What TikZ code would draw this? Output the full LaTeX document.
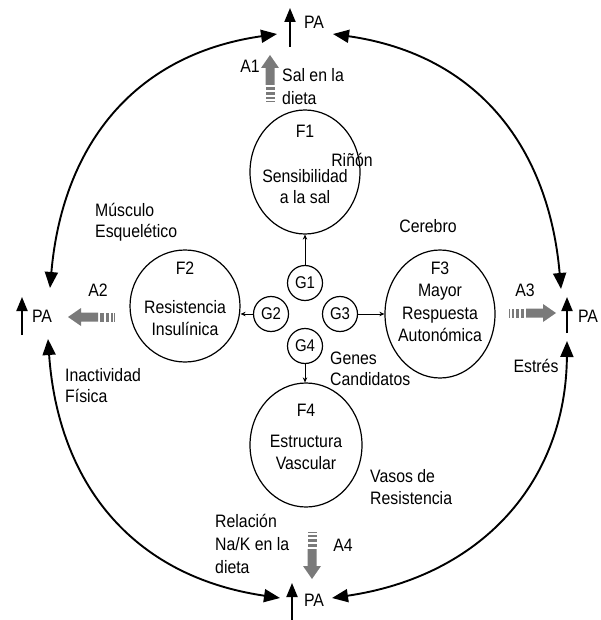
\documentclass[tikz,border=0pt]{standalone}
\usepackage{fontspec}
\setmainfont[FakeStretch=0.88]{Liberation Sans}
\usetikzlibrary{arrows.meta,shapes.geometric}

\definecolor{blockgray}{HTML}{7A7A7A}

\tikzset{
  txt/.style={font=\fontsize{18}{22}\selectfont, inner sep=0pt, text height=12.8pt, text depth=0pt},
  fell/.style={draw, ellipse, line width=1.2pt, inner sep=0pt},
  gcirc/.style={draw, circle, line width=1.2pt, minimum size=35pt, inner sep=0pt,
                font=\fontsize{17}{20}\selectfont},
  smallarrow/.style={line width=0.8pt, -{Stealth[length=5pt,width=4.5pt]}},
  paarrow/.style={line width=1.9pt, -{Triangle[length=14pt,width=11pt]}},
  bigcurve/.style={line width=1.9pt,
                   {Triangle[length=16pt,width=13pt]}-{Triangle[length=16pt,width=13pt]}},
  blockarrow/.pic={
    \fill[blockgray] (0,0) -- (9,13) -- (4.5,13) -- (4.5,30) -- (-4.5,30) -- (-4.5,13) -- (-9,13) -- cycle;
    \fill[blockgray] (-4.5,32) rectangle (4.5,35.5);
    \fill[blockgray] (-4.5,37.5) rectangle (4.5,40.5);
    \fill[blockgray] (-4.5,42.5) rectangle (4.5,44.5);
    \fill[blockgray] (-4.5,46) rectangle (4.5,47);
  }
}

\begin{document}
\begin{tikzpicture}[x=1pt,y=-1pt]
\useasboundingbox (0,0) rectangle (600,620);

% the four factor ellipses
\node[fell, minimum width=110pt, minimum height=124pt] (F1) at (305,172) {};
\node[fell, minimum width=110pt, minimum height=112pt] (F2) at (185,306) {};
\node[fell, minimum width=110pt, minimum height=128pt] (F3) at (440,314) {};
\node[fell, minimum width=112pt, minimum height=124pt] (F4) at (306,445) {};

\node[txt] (f1a) at (305,131) {F1};
\node[txt] (f1b) at (305,176) {Sensibilidad};
\node[txt] (f1c) at (305,197) {a la sal};

\node[txt] (f2a) at (185,268) {F2};
\node[txt] (f2b) at (185,307) {Resistencia};
\node[txt] (f2c) at (185,329) {Insulínica};

\node[txt] (f3a) at (440,268) {F3};
\node[txt] (f3b) at (440,290) {Mayor};
\node[txt] (f3c) at (440,313) {Respuesta};
\node[txt] (f3d) at (440,335) {Autonómica};

\node[txt] (f4a) at (306,410) {F4};
\node[txt] (f4b) at (306,441) {Estructura};
\node[txt] (f4c) at (306,463) {Vascular};

% candidate genes
\node[gcirc] (G1) at (305,283) {G1};
\node[gcirc] (G2) at (271,314) {G2};
\node[gcirc] (G3) at (340,314) {G3};
\node[gcirc] (G4) at (305,346) {G4};

\draw[smallarrow] (G1) -- (F1);
\draw[smallarrow] (G2) -- (G2 -| F2.east);
\draw[smallarrow] (G3) -- (G3 -| F3.west);
\draw[smallarrow] (G4) -- (G4 |- F4.north);

% blood pressure arrows
\coordinate (T0) at (290,47);  \coordinate (T1) at (290,8);
\coordinate (L0) at (22,335);  \coordinate (L1) at (22,297);
\coordinate (R0) at (567,333); \coordinate (R1) at (567,297);
\coordinate (B0) at (292,620); \coordinate (B1) at (292,583);
\draw[paarrow] (T0) -- (T1);
\draw[paarrow] (L0) -- (L1);
\draw[paarrow] (R0) -- (R1);
\draw[paarrow] (B0) -- (B1);
\node[txt] (PAt) at (314,22) {PA};
\node[txt] (PAl) at (42,316) {PA};
\node[txt] (PAr) at (588,316) {PA};
\node[txt] (PAb) at (314,600) {PA};

% outer feedback curves
\coordinate (tlA) at (50,288);  \coordinate (tlB) at (277,34);
\coordinate (trA) at (333,34);  \coordinate (trB) at (561,289);
\coordinate (blA) at (48,339);  \coordinate (blB) at (280,598);
\coordinate (brA) at (332,598); \coordinate (brB) at (567,341);
\draw[bigcurve] (tlA) .. controls (62,150) and (130,55) .. (tlB);
\draw[bigcurve] (trA) .. controls (480,55) and (549,150) .. (trB);
\draw[bigcurve] (blA) .. controls (58,481) and (130,576) .. (blB);
\draw[bigcurve] (brA) .. controls (482,576) and (566,481) .. (brB);

% environmental block arrows
\pic at (270,55) {blockarrow};
\pic[rotate=90] at (68,317) {blockarrow};
\pic[rotate=-90] at (556,313) {blockarrow};
\pic[rotate=180] at (312,579) {blockarrow};

\node[txt] (A1) at (250,66) {A1};
\node[txt] (A2) at (98,290) {A2};
\node[txt] (A3) at (525,290) {A3};
\node[txt] (A4) at (343,545) {A4};

% labels
\node[txt, anchor=west] (sal1) at (282,75) {Sal en la};
\node[txt, anchor=west] (sal2) at (282,98) {dieta};
\node[txt] (rin) at (352,160) {Riñón};
\node[txt, anchor=west] (mus1) at (95,210) {Músculo};
\node[txt, anchor=west] (mus2) at (95,231) {Esquelético};
\node[txt] (cer) at (428,226) {Cerebro};
\node[txt] (est) at (536,366) {Estrés};
\node[txt, anchor=west] (ina1) at (65,375) {Inactividad};
\node[txt, anchor=west] (ina2) at (65,396) {Física};
\node[txt, anchor=west] (gen1) at (330,358) {Genes};
\node[txt, anchor=west] (gen2) at (330,379) {Candidatos};
\node[txt, anchor=west] (vas1) at (370,476) {Vasos de};
\node[txt, anchor=west] (vas2) at (370,498) {Resistencia};
\node[txt, anchor=west] (rel1) at (215,521) {Relación};
\node[txt, anchor=west] (rel2) at (215,544) {Na/K en la};
\node[txt, anchor=west] (rel3) at (215,567) {dieta};
\end{tikzpicture}
\end{document}
